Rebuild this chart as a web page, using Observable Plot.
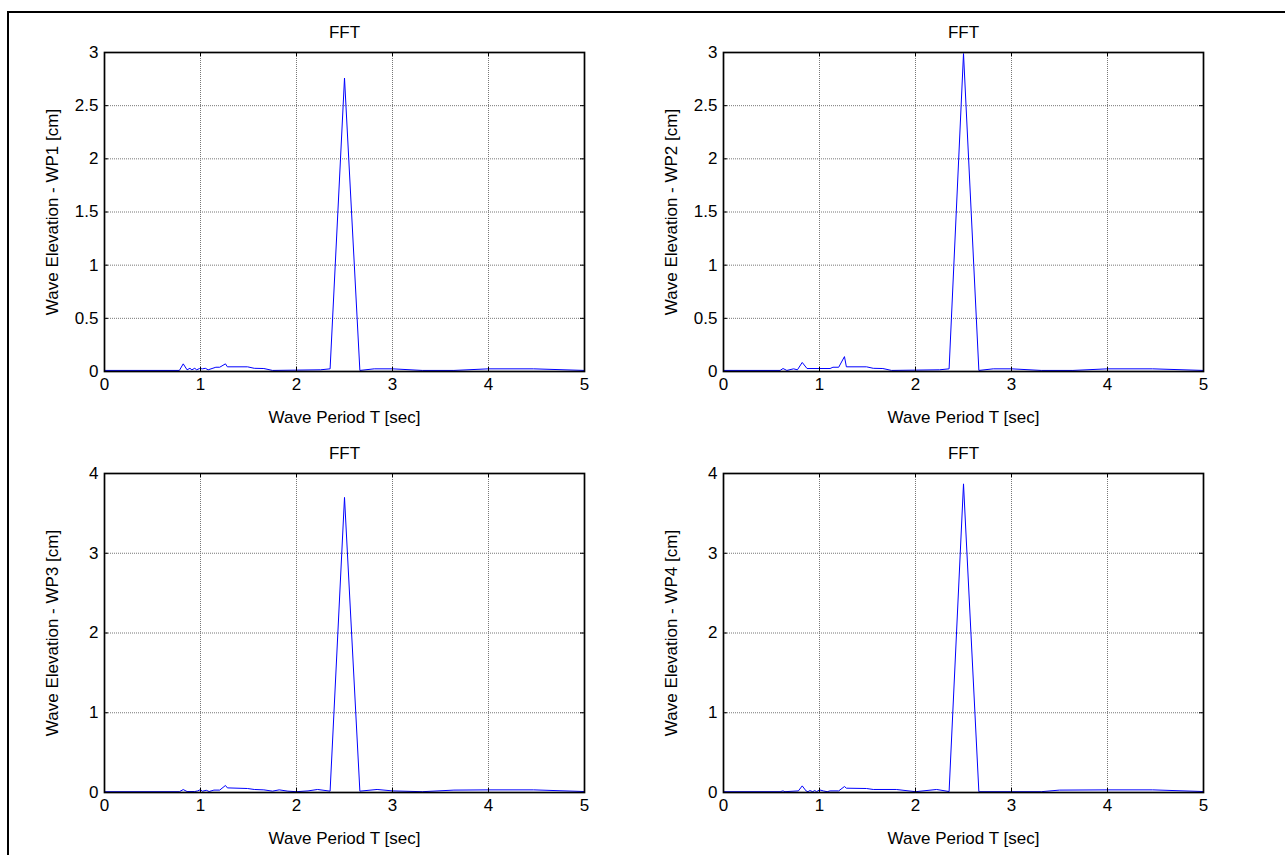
<!DOCTYPE html>
<html>
<head>
<meta charset="utf-8">
<script src="https://cdn.jsdelivr.net/npm/d3@7"></script>
<script src="https://cdn.jsdelivr.net/npm/@observablehq/plot@0.6"></script>
<style>
  html, body { margin: 0; padding: 0; background: #fff; overflow: hidden; }
  #page { position: relative; width: 1285px; height: 855px; }
  #border { position: absolute; left: 7px; top: 11px; width: 1400px; height: 1000px;
            border-left: 2px solid #000; border-top: 2px solid #000; box-sizing: border-box; }
  .panel { position: absolute; }
</style>
</head>
<body>
<div id="page"><div id="border"></div></div>
<script>
// ---- Data ----
const titles = ["FFT", "FFT", "FFT", "FFT"];
const xLabel = "Wave Period T [sec]";
const yLabels = ["Wave Elevation - WP1 [cm]", "Wave Elevation - WP2 [cm]",
                 "Wave Elevation - WP3 [cm]", "Wave Elevation - WP4 [cm]"];
const xTicks = [0, 1, 2, 3, 4, 5];
const xTickLabels = ["0", "1", "2", "3", "4", "5"];
const yTicksTop = [0, 0.5, 1, 1.5, 2, 2.5, 3];
const yTickLabelsTop = ["0", "0.5", "1", "1.5", "2", "2.5", "3"];
const yTicksBottom = [0, 1, 2, 3, 4];
const yTickLabelsBottom = ["0", "1", "2", "3", "4"];

const T1 = [0, 0.78, 0.82, 0.86, 0.89, 0.91, 0.94, 0.96, 0.99, 1.02, 1.05, 1.08, 1.12, 1.16, 1.2, 1.26, 1.28, 1.49, 1.56, 1.66, 1.75, 2.25, 2.35, 2.5, 2.66, 2.81, 3.0, 3.31, 3.64, 4.0, 4.47, 5.0];
const A1 = [0.01, 0.01, 0.072, 0.016, 0.03, 0.016, 0.03, 0.016, 0.028, 0.025, 0.03, 0.016, 0.028, 0.04, 0.04, 0.072, 0.044, 0.044, 0.03, 0.028, 0.01, 0.016, 0.025, 2.76, 0.01, 0.025, 0.025, 0.01, 0.01, 0.025, 0.025, 0.01];

const T2 = [0, 0.59, 0.62, 0.66, 0.73, 0.77, 0.82, 0.87, 1.11, 1.14, 1.2, 1.26, 1.28, 1.49, 1.56, 1.66, 1.75, 2.25, 2.35, 2.5, 2.66, 2.81, 3.0, 3.31, 3.64, 4.0, 4.47, 5.0];
const A2 = [0.01, 0.01, 0.028, 0.01, 0.025, 0.016, 0.085, 0.028, 0.028, 0.04, 0.04, 0.14, 0.044, 0.044, 0.03, 0.028, 0.01, 0.016, 0.025, 2.99, 0.01, 0.025, 0.025, 0.01, 0.01, 0.025, 0.025, 0.01];

const T3 = [0, 0.78, 0.82, 0.86, 0.94, 0.97, 1.0, 1.02, 1.06, 1.09, 1.14, 1.2, 1.26, 1.28, 1.49, 1.56, 1.66, 1.75, 1.82, 1.91, 2.0, 2.12, 2.22, 2.35, 2.5, 2.66, 2.84, 3.0, 3.31, 3.64, 4.0, 4.47, 5.0];
const A3 = [0.01, 0.01, 0.037, 0.012, 0.012, 0.02, 0.036, 0.016, 0.028, 0.012, 0.03, 0.03, 0.088, 0.058, 0.05, 0.038, 0.033, 0.017, 0.033, 0.017, 0.01, 0.02, 0.038, 0.017, 3.7, 0.017, 0.038, 0.02, 0.01, 0.03, 0.033, 0.033, 0.012];

const T4 = [0, 0.59, 0.62, 0.64, 0.78, 0.82, 0.86, 0.88, 0.9, 0.93, 0.95, 0.97, 1.0, 1.04, 1.08, 1.11, 1.2, 1.26, 1.28, 1.49, 1.56, 1.8, 2.0, 2.22, 2.35, 2.5, 2.66, 3.0, 3.31, 3.5, 4.0, 4.47, 5.0];
const A4 = [0.01, 0.01, 0.02, 0.01, 0.02, 0.083, 0.02, 0.01, 0.025, 0.01, 0.025, 0.01, 0.033, 0.02, 0.01, 0.02, 0.02, 0.075, 0.054, 0.05, 0.038, 0.038, 0.01, 0.038, 0.012, 3.87, 0.01, 0.01, 0.01, 0.03, 0.033, 0.033, 0.012];

// ---- Layout ----
const frameW = 480, frameH = 319;
const mL = 100, mR = 20, mT = 45, mB = 60;
const panels = [
  {T: T1, A: A1, yMax: 3, yTicks: yTicksTop, yTickLabels: yTickLabelsTop, left: 104, top: 52},
  {T: T2, A: A2, yMax: 3, yTicks: yTicksTop, yTickLabels: yTickLabelsTop, left: 723, top: 52},
  {T: T3, A: A3, yMax: 4, yTicks: yTicksBottom, yTickLabels: yTickLabelsBottom, left: 104, top: 473},
  {T: T4, A: A4, yMax: 4, yTicks: yTicksBottom, yTickLabels: yTickLabelsBottom, left: 723, top: 473}
];

const page = document.getElementById("page");
const font = "'Liberation Sans', Arial, sans-serif";
const fs = 17;

panels.forEach((p, i) => {
  const pts = p.T.map((t, j) => ({t, a: p.A[j]}));
  const tick = 4;
  const chart = Plot.plot({
    width: frameW + mL + mR,
    height: frameH + mT + mB,
    marginLeft: mL, marginRight: mR, marginTop: mT, marginBottom: mB,
    style: {background: "transparent", fontFamily: font, fontSize: fs + "px", color: "#000", overflow: "visible"},
    x: {domain: [0, 5], label: null},
    y: {domain: [0, p.yMax], label: null},
    marks: [
      Plot.gridX(xTicks, {stroke: "#777", strokeOpacity: 1, strokeDasharray: "1,1"}),
      Plot.gridY(p.yTicks, {stroke: "#777", strokeOpacity: 1, strokeDasharray: "1,1"}),
      Plot.line(pts, {x: "t", y: "a", stroke: "#0000ff", strokeWidth: 1}),
      // inward ticks on all four sides
      Plot.tickX(xTicks, {x: d => d, stroke: "#000", insetTop: frameH - tick}),
      Plot.tickX(xTicks, {x: d => d, stroke: "#000", insetBottom: frameH - tick}),
      Plot.tickY(p.yTicks, {y: d => d, stroke: "#000", insetRight: frameW - tick}),
      Plot.tickY(p.yTicks, {y: d => d, stroke: "#000", insetLeft: frameW - tick}),
      Plot.frame({stroke: "#000", strokeWidth: 1.7}),
      Plot.axisX(xTicks, {anchor: "bottom", tickSize: 0, tickPadding: 6, label: null,
        tickFormat: d => xTickLabels[xTicks.indexOf(d)], fontSize: fs}),
      Plot.axisY(p.yTicks, {anchor: "left", tickSize: 0, tickPadding: 6, label: null,
        tickFormat: d => p.yTickLabels[p.yTicks.indexOf(d)], fontSize: fs}),
      Plot.text([titles[i]], {frameAnchor: "top", dy: -20, lineAnchor: "middle", textAnchor: "middle", fontSize: fs}),
      Plot.text([xLabel], {frameAnchor: "bottom", dy: 46, lineAnchor: "middle", textAnchor: "middle", fontSize: fs}),
      Plot.text([yLabels[i]], {frameAnchor: "left", dx: -52, rotate: -90, lineAnchor: "middle", textAnchor: "middle", fontSize: fs})
    ]
  });
  chart.classList.add("panel");
  chart.style.left = (p.left - mL) + "px";
  chart.style.top = (p.top - mT) + "px";
  chart.style.maxWidth = "none";
  page.appendChild(chart);
});
</script>
</body>
</html>
